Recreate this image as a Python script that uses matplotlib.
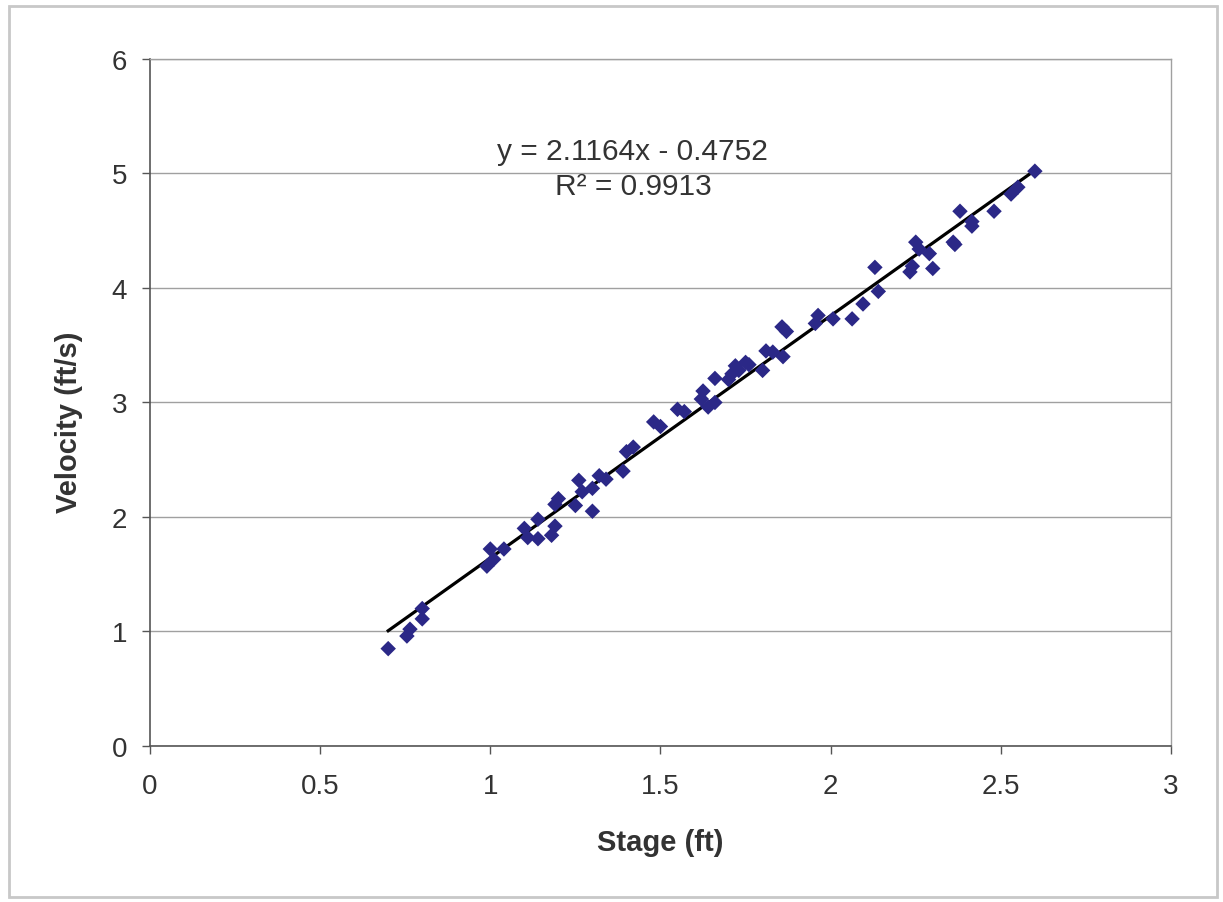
import matplotlib
matplotlib.use("Agg")
import matplotlib.pyplot as plt
from matplotlib.patches import Rectangle
import numpy as np

stage = [0.70, 0.755, 0.764, 0.80, 0.80, 0.99, 1.00, 1.01, 1.04, 1.10, 1.11, 1.14, 1.14,
         1.18, 1.19, 1.19, 1.20, 1.25, 1.26, 1.27, 1.30, 1.30, 1.32, 1.34, 1.39, 1.40, 1.42,
         1.48, 1.50, 1.55, 1.57, 1.62, 1.625, 1.64, 1.66, 1.66, 1.70, 1.71, 1.72, 1.73, 1.75,
         1.76, 1.80, 1.81, 1.83, 1.86, 1.857, 1.87, 1.955, 1.963, 2.007, 2.063, 2.095, 2.13,
         2.14, 2.233, 2.24, 2.25, 2.26, 2.29, 2.30, 2.36, 2.365, 2.38, 2.415, 2.415, 2.48,
         2.53, 2.55, 2.60]
velocity = [0.85, 0.96, 1.02, 1.11, 1.20, 1.57, 1.72, 1.63, 1.72, 1.90, 1.82, 1.81, 1.98,
            1.84, 1.92, 2.11, 2.16, 2.10, 2.32, 2.22, 2.05, 2.25, 2.36, 2.33, 2.40, 2.57, 2.61,
            2.83, 2.79, 2.94, 2.92, 3.03, 3.10, 2.96, 3.00, 3.21, 3.20, 3.25, 3.32, 3.28, 3.35,
            3.33, 3.28, 3.45, 3.44, 3.40, 3.66, 3.62, 3.69, 3.76, 3.73, 3.73, 3.86, 4.18,
            3.97, 4.14, 4.19, 4.40, 4.34, 4.30, 4.17, 4.40, 4.38, 4.67, 4.58, 4.54, 4.67,
            4.82, 4.88, 5.02]

slope = 2.1164
intercept = -0.4752
r2 = 0.9913
fit_range = [0.70, 2.60]

x_ticks = [0, 0.5, 1, 1.5, 2, 2.5, 3]
x_labels = ["0", "0.5", "1", "1.5", "2", "2.5", "3"]
y_ticks = [0, 1, 2, 3, 4, 5, 6]

plt.rcParams['font.family'] = ['Liberation Sans', 'DejaVu Sans']

fig = plt.figure(figsize=(12.23, 9.03), dpi=100)
fig.patches.append(Rectangle((0.007, 0.006), 0.988, 0.986, transform=fig.transFigure,
                             fill=False, edgecolor='#c8c8c8', linewidth=2.0))
ax = fig.add_axes([0.1226, 0.1728, 0.8349, 0.7608])

ax.set_xlim(0, 3)
ax.set_ylim(0, 6)
ax.set_xticks(x_ticks)
ax.set_xticklabels(x_labels)
ax.set_yticks(y_ticks)

ax.yaxis.grid(True, color='#a0a0a0', linewidth=1.0)
ax.set_axisbelow(True)

for side in ['top', 'right']:
    ax.spines[side].set_color('#a0a0a0')
    ax.spines[side].set_linewidth(1.0)
for side in ['left', 'bottom']:
    ax.spines[side].set_color('#555555')
    ax.spines[side].set_linewidth(1.2)

ax.tick_params(axis='both', direction='out', length=5.5, width=1.0, color='#555555',
               labelsize=20, labelcolor='#333333')
ax.tick_params(axis='y', pad=11)
ax.tick_params(axis='x', pad=14)

xs = np.array(fit_range)
ax.plot(xs, slope * xs + intercept, color='black', linewidth=2.3, zorder=2)
ax.scatter(stage, velocity, marker='D', s=62, color='#2b2887', edgecolors='none', zorder=3)

ax.text(1.419, 5.20, f"y = {slope}x - {abs(intercept)}", ha='center', va='center',
        fontsize=21.5, color='#333333')
ax.text(1.419, 4.89, f"R² = {r2}", ha='center', va='center', fontsize=21.5, color='#333333')

ax.set_xlabel("Stage (ft)", fontsize=21, fontweight='bold', color='#333333')
ax.set_ylabel("Velocity (ft/s)", fontsize=21, fontweight='bold', color='#333333')
ax.xaxis.set_label_coords(0.5, -0.12)
ax.yaxis.set_label_coords(-0.066, 0.473)

fig.savefig("out.png", dpi=100, facecolor='white')
